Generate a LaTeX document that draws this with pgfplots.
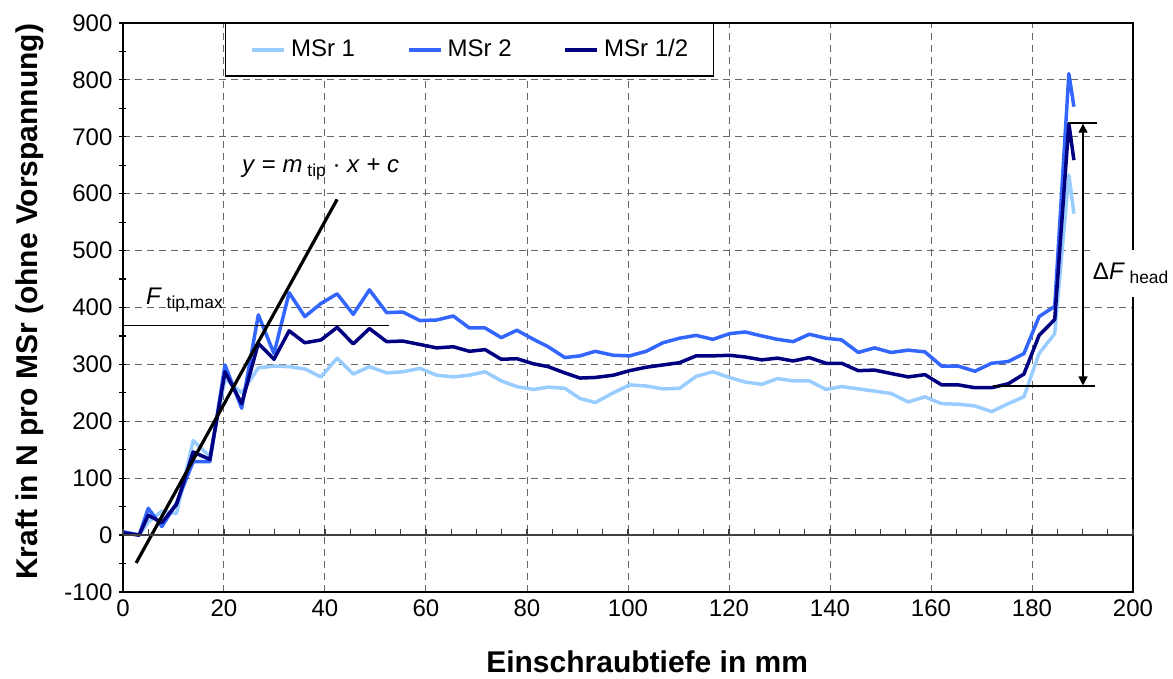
\documentclass[border=0pt]{standalone}
\usepackage{fontspec}
\setmainfont{Liberation Sans}
\usepackage{pgfplots}
\usepackage{pgfplotstable}
\pgfplotsset{compat=1.18}
\usetikzlibrary{arrows.meta}
\definecolor{msra}{HTML}{99CCFF}
\definecolor{msrb}{HTML}{3366FF}
\definecolor{msrc}{HTML}{000080}

\pgfplotstableread{
x a b c
0 4 6 4
3.2 0 0 0
5.0 23 47 35
7.7 42 15 22
10.6 38 56 54
13.9 166 129 146
17.2 138 129 133
20.2 275 299 287
23.5 250 223 231
26.8 294 387 337
29.9 297 319 309
32.9 296 426 359
36.0 292 384 338
39.2 278 407 343
42.4 311 424 365
45.6 283 388 336
48.8 296 431 363
52.2 285 391 340
55.4 287 392 341
58.8 293 377 335
62.1 281 378 329
65.4 278 385 331
68.6 281 364 323
71.7 287 364 326
74.9 271 347 309
78.0 261 360 310
81.3 256 344 301
84.2 260 331 296
87.5 258 312 285
90.5 240 315 276
93.5 233 323 277
97.1 250 316 281
100.3 264 315 289
103.6 262 323 295
106.9 257 338 299
110.2 258 346 303
113.5 279 351 315
116.8 287 344 315
120.1 277 354 316
123.2 269 357 313
126.5 265 350 308
129.6 275 344 311
132.7 271 340 306
135.9 271 353 312
139.2 256 346 302
142.3 261 343 302
145.6 257 321 289
148.8 253 329 290
152.1 249 321 284
155.5 234 325 278
158.8 243 322 282
162.1 231 297 264
165.4 230 297 264
168.7 227 288 259
172.0 217 302 259
175.3 231 305 266
178.4 243 319 283
181.4 319 384 351
184.5 354 402 379
187.3 633 811 723
188.3 565 753 659
}\datatable

\begin{document}
\begin{tikzpicture}
\begin{axis}[
  name=ax,
  scale only axis, width=505pt, height=284.5pt,
  xmin=0, xmax=200, ymin=-100, ymax=900,
  clip=false,
  xtick={0,20,...,200},
  xticklabels={0,20,40,60,80,100,120,140,160,180,200},
  ytick={-100,0,100,200,300,400,500,600,700,800,900},
  yticklabels={-100,0,100,200,300,400,500,600,700,800,900},
  minor ytick={-50,50,150,250,350,450,550,650,750,850},
  ytick pos=left,
  grid=major,
  major grid style={black!60, line width=0.5pt, dash pattern=on 3.5pt off 2.5pt},
  axis line style={black, line width=0.8pt},
  xtick style={draw=none},
  ytick style={black, line width=0.6pt},
  minor tick style={black, line width=0.6pt},
  tick align=center, major tick length=3.5pt, minor tick length=3.5pt,
  tick label style={font=\fontsize{12pt}{14pt}\selectfont},
  xticklabel style={inner sep=2pt},
  xlabel={Einschraubtiefe in mm},
  ylabel={Kraft in N pro MSr (ohne Vorspannung)},
  label style={font=\fontsize{15pt}{18pt}\selectfont\bfseries},
  xlabel style={at={(axis description cs:0.519,-0.142)}, anchor=base},
  ylabel style={at={(axis description cs:-0.0851,0.51)}, anchor=base},
  legend columns=3,
  legend style={at={(0.101,1)}, anchor=north west, draw=black, line width=0.6pt,
    fill=white, font=\fontsize{12pt}{14pt}\selectfont,
    inner xsep=12.5pt, inner ysep=8pt, nodes={inner sep=0pt},
    /tikz/every even column/.append style={column sep=26pt}},
  legend image code/.code={\draw[#1] (0pt,0pt) -- (16pt,0pt);},
  every axis plot/.append style={line width=1.75pt, line join=round, no markers},
]
\addplot[msra] table[x=x, y=a] {\datatable};
\addlegendentry{\hspace{2.5pt}MSr 1}
\addplot[msrb] table[x=x, y=b] {\datatable};
\addlegendentry{\hspace{2.5pt}MSr 2}
\addplot[msrc] table[x=x, y=c] {\datatable};
\addlegendentry{\hspace{2.5pt}MSr 1/2\hspace{13.5pt}}
% fit line and F_tip,max line
\addplot[black, line width=1.6pt, forget plot] coordinates {(2.6,-49) (42.4,590)};
\addplot[black, line width=0.6pt, forget plot] coordinates {(0,368.5) (52.7,368.5)};
% Delta F head dimension
\addplot[black, line width=1pt, forget plot] coordinates {(187.2,724) (192.8,724)};
\addplot[black, line width=1pt, forget plot] coordinates {(172.2,262) (192.5,262)};
\draw[black, line width=0.6pt, {Triangle[length=4.5pt,width=4.5pt]}-{Triangle[length=4.5pt,width=4.5pt]}]
  (axis cs:190.1,263) -- (axis cs:190.1,723);
\node[anchor=base west, inner sep=0pt, font=\fontsize{12pt}{14pt}\selectfont] at (axis cs:23.5,637.5)
  {\textit{y} = \textit{m}\raisebox{-2.2pt}{\fontsize{8.7pt}{10pt}\selectfont\ tip} · \textit{x} + \textit{c}};
\node[anchor=base west, inner sep=0pt, font=\fontsize{12pt}{14pt}\selectfont] at (axis cs:4.5,405)
  {\textit{F}\raisebox{-1.8pt}{\fontsize{8.7pt}{10pt}\selectfont\ tip,max}};
\coordinate (dF) at (axis cs:191.6,459.6);
\end{axis}
\begin{axis}[
  scale only axis, width=505pt, height=284.5pt,
  xmin=0, xmax=200, ymin=-100, ymax=900,
  axis x line=middle, axis y line=none,
  x axis line style={-, black!75, line width=0.7pt},
  xtick={0,5,...,200}, xticklabels={}, ytick=\empty,
  tick align=center, major tick length=3pt,
  xtick style={black!75, line width=0.6pt, yshift=1.5pt},
]
\end{axis}
\node[anchor=west, fill=white, inner xsep=1pt, inner ysep=0pt, minimum height=23.5pt,
  font=\fontsize{12pt}{14pt}\selectfont] at (dF)
  {Δ\textit{F}\raisebox{-2.2pt}{\fontsize{8.7pt}{10pt}\selectfont\ head}};
\pgfresetboundingbox
\path[use as bounding box] ([shift={(-61.5pt,-43.5pt)}]ax.south west) rectangle ([shift={(20pt,11.5pt)}]ax.north east);
\end{tikzpicture}
\end{document}
